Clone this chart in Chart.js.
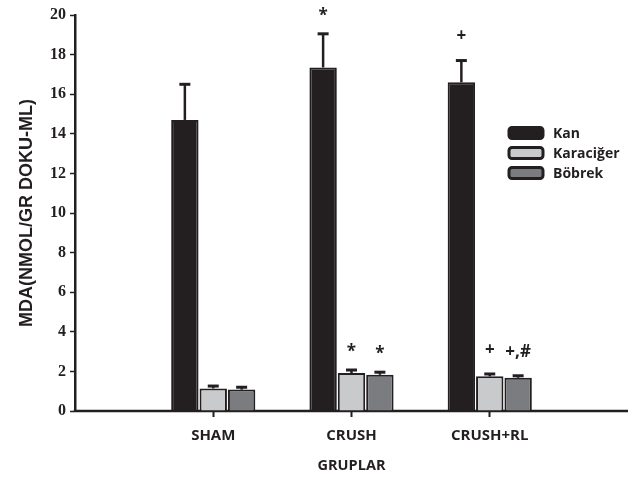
<!DOCTYPE html>
<html>
<head>
<meta charset="utf-8">
<script src="https://cdn.jsdelivr.net/npm/chart.js@4/dist/chart.umd.min.js"></script>
<style>
  html, body { margin: 0; padding: 0; background: #ffffff; }
  #wrap { width: 634px; height: 477px; }
</style>
</head>
<body>
<div id="wrap"><canvas id="c" width="634" height="477"></canvas></div>
<script>
// Groups on the x axis (blank slots keep the outer margins of the axis)
const groups = ['', 'SHAM', 'CRUSH', 'CRUSH+RL', ''];
const seriesNames = ['Kan', 'Karaciğer', 'Böbrek'];

// MDA means and upper error (SD) per group
const kan = [null, 14.7, 17.35, 16.6, null];
const kanErr = [null, 1.8, 1.7, 1.1, null];
const karaciger = [null, 1.14, 1.92, 1.75, null];
const karacigerErr = [null, 0.12, 0.15, 0.12, null];
const bobrek = [null, 1.08, 1.83, 1.68, null];
const bobrekErr = [null, 0.12, 0.13, 0.1, null];

// Significance marks printed above each bar
const kanMarks = ['', '', '*', '+', ''];
const karacigerMarks = ['', '', '*', '+', ''];
const bobrekMarks = ['', '', '*', '+,#', ''];

const yMin = 0, yMax = 20, yStep = 2;

const INK = '#231f20';
const fills = ['#231f20', '#c9cacc', '#7b7c7f'];

// Baseline drawn from the y axis to the last (blank) category slot
const baselinePlugin = {
  id: 'baseline',
  beforeDatasetsDraw(chart) {
    const ctx = chart.ctx;
    const x = chart.scales.x, y = chart.scales.y;
    const yb = y.getPixelForValue(yMin);
    ctx.save();
    ctx.strokeStyle = INK;
    ctx.lineWidth = 2.5;
    ctx.beginPath();
    ctx.moveTo(x.getPixelForValue(0) - 1.25, yb);
    ctx.lineTo(x.getPixelForValue(groups.length - 1), yb);
    ctx.stroke();
    ctx.restore();
  }
};

// Upper error bars plus the significance marks
const errorBarPlugin = {
  id: 'errorBars',
  afterDatasetsDraw(chart) {
    const ctx = chart.ctx;
    const y = chart.scales.y;
    chart.data.datasets.forEach((ds, i) => {
      const meta = chart.getDatasetMeta(i);
      meta.data.forEach((bar, j) => {
        const v = ds.data[j];
        if (v == null) return;
        const e = ds.errors[j] || 0;
        const yTop = y.getPixelForValue(v + e);
        ctx.save();
        ctx.strokeStyle = INK;
        ctx.lineWidth = 2.5;
        ctx.beginPath();
        ctx.moveTo(bar.x, bar.y);
        ctx.lineTo(bar.x, yTop);
        ctx.stroke();
        ctx.lineWidth = 3;
        ctx.beginPath();
        ctx.moveTo(bar.x - 5.5, yTop);
        ctx.lineTo(bar.x + 5.5, yTop);
        ctx.stroke();
        const mark = ds.marks[j];
        if (mark) {
          ctx.fillStyle = INK;
          ctx.font = 'bold 17px "Open Sans"';
          ctx.textAlign = 'center';
          ctx.textBaseline = 'middle';
          const off = mark === '*' ? 18 : 24;
          ctx.fillText(mark, bar.x, yTop - off);
        }
        ctx.restore();
      });
    });
  }
};

// Legend drawn inside the plot, to the right of the last group
const legendPlugin = {
  id: 'innerLegend',
  afterDraw(chart, args, opts) {
    const ctx = chart.ctx;
    ctx.save();
    chart.data.datasets.forEach((ds, i) => {
      const cy = opts.y + i * opts.rowGap;
      const bx = opts.x, bw = 34, bh = 11;
      ctx.beginPath();
      ctx.roundRect(bx, cy - bh / 2, bw, bh, 3);
      ctx.fillStyle = ds.backgroundColor;
      ctx.fill();
      ctx.lineWidth = 3;
      ctx.strokeStyle = INK;
      ctx.stroke();
      ctx.fillStyle = INK;
      ctx.font = 'bold 14px "Open Sans"';
      ctx.textAlign = 'left';
      ctx.textBaseline = 'middle';
      ctx.fillText(ds.label, bx + bw + 10, cy + 1);
    });
    ctx.restore();
  }
};

const seriesValues = [kan, karaciger, bobrek];
const seriesErrors = [kanErr, karacigerErr, bobrekErr];
const seriesMarks = [kanMarks, karacigerMarks, bobrekMarks];

const datasets = seriesNames.map((name, i) => ({
  label: name,
  data: seriesValues[i],
  errors: seriesErrors[i],
  marks: seriesMarks[i],
  backgroundColor: fills[i],
  borderColor: INK,
  borderWidth: 2,
  borderSkipped: 'start',
  categoryPercentage: 0.616,
  barPercentage: 0.965
}));

new Chart(document.getElementById('c'), {
  type: 'bar',
  data: { labels: groups, datasets },
  plugins: [baselinePlugin, errorBarPlugin, legendPlugin],
  options: {
    responsive: false,
    devicePixelRatio: 1,
    animation: false,
    layout: { padding: { top: 15, right: 6, bottom: 0, left: 0 } },
    plugins: {
      legend: { display: false },
      tooltip: { enabled: false },
      innerLegend: { x: 509, y: 133, rowGap: 20 }
    },
    scales: {
      x: {
        offset: false,
        afterFit(s) { s.height = 66; s.paddingLeft = 0; s.paddingRight = 0; },
        border: { display: false },
        grid: {
          offset: false,
          drawOnChartArea: false,
          tickLength: 6,
          tickWidth: 2,
          tickColor: (c) => (c.index >= 1 && c.index <= 3 ? INK : 'rgba(0,0,0,0)')
        },
        ticks: {
          color: INK,
          padding: 10,
          maxRotation: 0,
          autoSkip: false,
          font: { family: 'Open Sans', weight: 'bold', size: 15 }
        },
        title: {
          display: true,
          text: 'GRUPLAR',
          color: INK,
          padding: { top: 0, bottom: 2 },
          font: { family: 'Open Sans', weight: 'bold', size: 14.5 }
        }
      },
      y: {
        min: yMin,
        max: yMax,
        afterFit(s) { s.width = 75; },
        border: { color: INK, width: 2.5 },
        grid: {
          drawOnChartArea: false,
          tickLength: 5,
          tickWidth: 1.5,
          tickColor: INK
        },
        ticks: {
          stepSize: yStep,
          color: INK,
          padding: 4,
          font: { family: 'Liberation Serif', weight: 'bold', size: 16 }
        },
        title: {
          display: true,
          text: 'MDA(NMOL/GR DOKU-ML)',
          color: INK,
          padding: { top: 16, bottom: 0 },
          font: { family: 'Liberation Sans', weight: 'bold', size: 18 }
        }
      }
    }
  }
});
</script>
</body>
</html>
